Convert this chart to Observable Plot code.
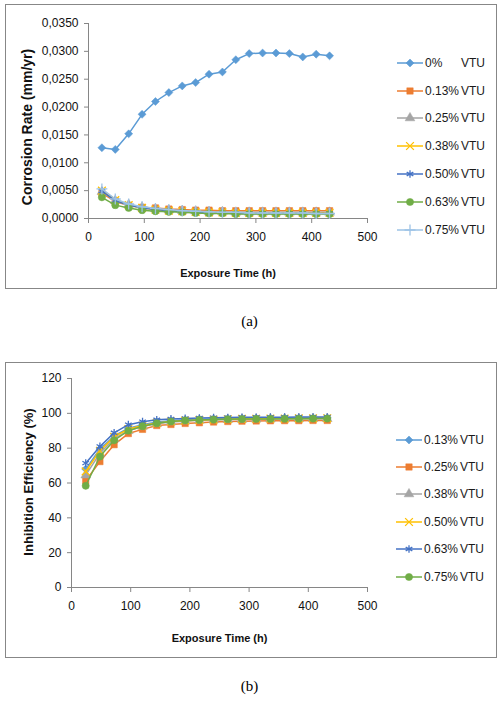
<!DOCTYPE html>
<html>
<head>
<meta charset="utf-8">
<script src="https://cdn.jsdelivr.net/npm/d3@7"></script>
<script src="https://cdn.jsdelivr.net/npm/@observablehq/plot@0.6"></script>
<style>
  body { margin: 0; background: #fff; font-family: "Liberation Sans", Arial, sans-serif; }
  #page { position: relative; width: 499px; height: 706px; overflow: hidden; }
  .frame { position: absolute; left: 5px; width: 490px; border: 1px solid #878787; background: #fff; }
  .frame > svg { position: absolute; left: 0; top: 0; }
  .legend { position: absolute; font-size: 12px; color: #1a1a1a; }
  .legend .row { display: flex; align-items: center; }
  .legend .row svg { display: block; margin-right: 2px; }
  .legend .pct { display: inline-block; width: 36px; }
  .caption { position: absolute; left: 0; width: 499px; text-align: center;
             font-family: "Liberation Serif", "Times New Roman", serif; font-size: 15px; }
</style>
</head>
<body>
<div id="page">
  <div class="frame" id="fa" style="top:4px;height:283px"></div>
  <div class="caption" style="top:313px">(a)</div>
  <div class="frame" id="fb" style="top:362px;height:294px"></div>
  <div class="caption" style="top:678px">(b)</div>
</div>
<script>
// exposure times (h)
const hours = [24, 48, 72, 96, 120, 144, 168, 192, 216, 240, 264, 288, 312, 336, 360, 384, 408, 432];

// (a) corrosion rate (mm/yr)
const crNames = ["0%", "0.13%", "0.25%", "0.38%", "0.50%", "0.63%", "0.75%"];
const cr0   = [0.0127, 0.0124, 0.0152, 0.0187, 0.0210, 0.0226, 0.0238, 0.0244, 0.0259, 0.0263, 0.0285, 0.0296, 0.0297, 0.0297, 0.0296, 0.0290, 0.0295, 0.0292];
const cr013 = [0.0045, 0.0031, 0.0023, 0.0020, 0.0019, 0.0017, 0.0016, 0.0015, 0.0015, 0.0014, 0.0014, 0.0014, 0.0014, 0.0014, 0.0014, 0.0014, 0.0014, 0.0014];
const cr025 = [0.0048, 0.0032, 0.0025, 0.0020, 0.0017, 0.0015, 0.0014, 0.0013, 0.0012, 0.0012, 0.0011, 0.0011, 0.0011, 0.0011, 0.0011, 0.0011, 0.0011, 0.0011];
const cr038 = [0.0050, 0.0033, 0.0024, 0.0019, 0.0016, 0.0014, 0.0013, 0.0012, 0.0011, 0.0011, 0.0010, 0.0010, 0.0010, 0.0010, 0.0010, 0.0010, 0.0010, 0.0010];
const cr050 = [0.0049, 0.0032, 0.0024, 0.0019, 0.0016, 0.0014, 0.0012, 0.0011, 0.0010, 0.0010, 0.0009, 0.0009, 0.0009, 0.0009, 0.0009, 0.0009, 0.0009, 0.0009];
const cr063 = [0.0038, 0.0024, 0.0019, 0.0015, 0.0013, 0.0012, 0.0011, 0.0010, 0.0009, 0.0009, 0.0008, 0.0008, 0.0008, 0.0008, 0.0008, 0.0008, 0.0008, 0.0008];
const cr075 = [0.0053, 0.0035, 0.0026, 0.0021, 0.0018, 0.0016, 0.0014, 0.0013, 0.0012, 0.0011, 0.0011, 0.0010, 0.0010, 0.0010, 0.0010, 0.0010, 0.0009, 0.0009];
const crTicks = [0, 0.005, 0.010, 0.015, 0.020, 0.025, 0.030, 0.035];

// (b) inhibition efficiency (%)
const ieNames = ["0.13%", "0.25%", "0.38%", "0.50%", "0.63%", "0.75%"];
const ie013 = [68.0, 79.5, 87.0, 91.5, 93.5, 95.0, 95.8, 96.3, 96.6, 96.8, 97.0, 97.1, 97.2, 97.2, 97.3, 97.3, 97.3, 97.4];
const ie025 = [61.3, 72.3, 82.0, 88.4, 90.8, 93.0, 93.6, 94.2, 94.6, 95.0, 95.3, 95.5, 95.6, 95.7, 95.8, 95.8, 95.9, 95.9];
const ie038 = [64.5, 77.0, 85.5, 90.0, 92.5, 94.0, 95.0, 95.5, 96.0, 96.2, 96.4, 96.5, 96.6, 96.7, 96.8, 96.8, 96.9, 96.9];
const ie050 = [66.7, 78.5, 86.5, 91.0, 93.0, 94.5, 95.3, 95.8, 96.2, 96.4, 96.6, 96.8, 96.9, 97.0, 97.0, 97.1, 97.1, 97.2];
const ie063 = [71.4, 81.0, 88.8, 93.5, 95.2, 96.3, 96.8, 97.1, 97.3, 97.5, 97.6, 97.7, 97.7, 97.8, 97.8, 97.9, 97.9, 97.9];
const ie075 = [58.4, 75.2, 84.5, 90.0, 92.6, 94.3, 95.3, 95.9, 96.2, 96.4, 96.6, 96.7, 96.8, 96.8, 96.9, 96.9, 97.0, 97.0];
const ieTicks = [0, 20, 40, 60, 80, 100, 120];
const xTicks = [0, 100, 200, 300, 400, 500];

// excel-ish series styles
const styleA = [
  {color: "#5b9bd5", symbol: "diamond2"},
  {color: "#ed7d31", symbol: "square"},
  {color: "#a5a5a5", symbol: "triangle"},
  {color: "#ffc000", symbol: "times"},
  {color: "#4472c4", symbol: "asterisk"},
  {color: "#70ad47", symbol: "circle"},
  {color: "#9dc3e6", symbol: "plus"}
];
const styleB = styleA.slice(0, 6);
const strokeSyms = new Set(["times", "asterisk", "plus"]);
const axisGray = "#868686";

function seriesMarks(series, styles) {
  const marks = [];
  series.forEach((vals, i) => {
    const rows = hours.map((h, j) => ({h, v: vals[j]}));
    const s = styles[i];
    const isStroke = strokeSyms.has(s.symbol);
    marks.push(Plot.line(rows, {x: "h", y: "v", stroke: s.color, strokeWidth: 1.5}));
    marks.push(Plot.dot(rows, {
      x: "h", y: "v", symbol: s.symbol, r: 3.6,
      fill: isStroke ? "none" : s.color,
      stroke: s.color, strokeWidth: isStroke ? 1.3 : 0.5
    }));
  });
  return marks;
}

function chart(o) {
  return Plot.plot({
    width: 385,
    height: o.height,
    marginLeft: o.marginLeft,
    marginRight: 24,
    marginTop: o.marginTop,
    marginBottom: 70,
    style: {fontFamily: "Liberation Sans, Arial, sans-serif", fontSize: "12px", color: "#111", background: "transparent"},
    x: {domain: [0, 500]},
    y: {domain: o.yDomain},
    marks: [
      Plot.axisX({ticks: xTicks, tickSize: 5, tickPadding: 9, stroke: axisGray, label: null}),
      Plot.axisY({ticks: o.yTicks, tickSize: 4, tickPadding: 6, stroke: axisGray, tickFormat: o.yFormat, label: null}),
      Plot.ruleX([0], {stroke: axisGray}),
      Plot.ruleY([0], {stroke: axisGray}),
      ...seriesMarks(o.series, o.styles),
      Plot.text(["Exposure Time (h)"], {frameAnchor: "bottom", dy: o.xTitleDy, fontWeight: "bold", fontSize: 11, fill: "#111"}),
      Plot.text([o.yLabel], {frameAnchor: "left", textAnchor: "middle", rotate: -90, dx: o.yTitleDx, dy: o.yTitleDy,
                             fontWeight: "bold", fontSize: o.yTitleSize, fill: "#111"})
    ]
  });
}

function legend(names, styles, top, left, rowH) {
  const div = document.createElement("div");
  div.className = "legend";
  div.style.top = top + "px";
  div.style.left = left + "px";
  names.forEach((name, i) => {
    const s = styles[i];
    const isStroke = strokeSyms.has(s.symbol);
    const row = document.createElement("div");
    row.className = "row";
    row.style.height = rowH + "px";
    const svg = d3.create("svg").attr("width", 26).attr("height", 14);
    svg.append("line").attr("x1", 0).attr("x2", 26).attr("y1", 7).attr("y2", 7)
      .attr("stroke", s.color).attr("stroke-width", 1.5);
    const type = {diamond2: d3.symbolDiamond2, square: d3.symbolSquare, triangle: d3.symbolTriangle,
                  times: d3.symbolTimes, asterisk: d3.symbolAsterisk, circle: d3.symbolCircle, plus: d3.symbolPlus}[s.symbol];
    svg.append("path").attr("transform", "translate(13,7)")
      .attr("d", d3.symbol(type, 3.6 * 3.6 * Math.PI)())
      .attr("fill", isStroke ? "none" : s.color)
      .attr("stroke", s.color).attr("stroke-width", isStroke ? 1.3 : 0.5);
    row.append(svg.node());
    const pct = document.createElement("span");
    pct.className = "pct";
    pct.textContent = name;
    const vtu = document.createElement("span");
    vtu.textContent = "VTU";
    row.append(pct, vtu);
    div.append(row);
  });
  return div;
}

const fa = document.querySelector("#fa");
fa.append(chart({
  series: [cr0, cr013, cr025, cr038, cr050, cr063, cr075],
  styles: styleA,
  yDomain: [0, 0.035],
  yTicks: crTicks,
  yFormat: d => d.toFixed(4).replace(".", ","),
  yLabel: "Corrosion Rate (mm/yr)",
  height: 283,
  marginLeft: 82,
  marginTop: 18,
  xTitleDy: 58,
  yTitleDx: -61,
  yTitleDy: 6,
  yTitleSize: 14
}));
fa.append(legend(crNames, styleA, 44, 391, 27.8));

const fb = document.querySelector("#fb");
fb.append(chart({
  series: [ie013, ie025, ie038, ie050, ie063, ie075],
  styles: styleB,
  yDomain: [0, 120],
  yTicks: ieTicks,
  yFormat: d => d,
  yLabel: "Inhibition Efficiency (%)",
  height: 294,
  marginLeft: 65,
  marginTop: 15,
  xTitleDy: 54,
  yTitleDx: -43,
  yTitleDy: -1,
  yTitleSize: 13
}));
fb.append(legend(ieNames, styleB, 63, 390, 27.4));
</script>
</body>
</html>
